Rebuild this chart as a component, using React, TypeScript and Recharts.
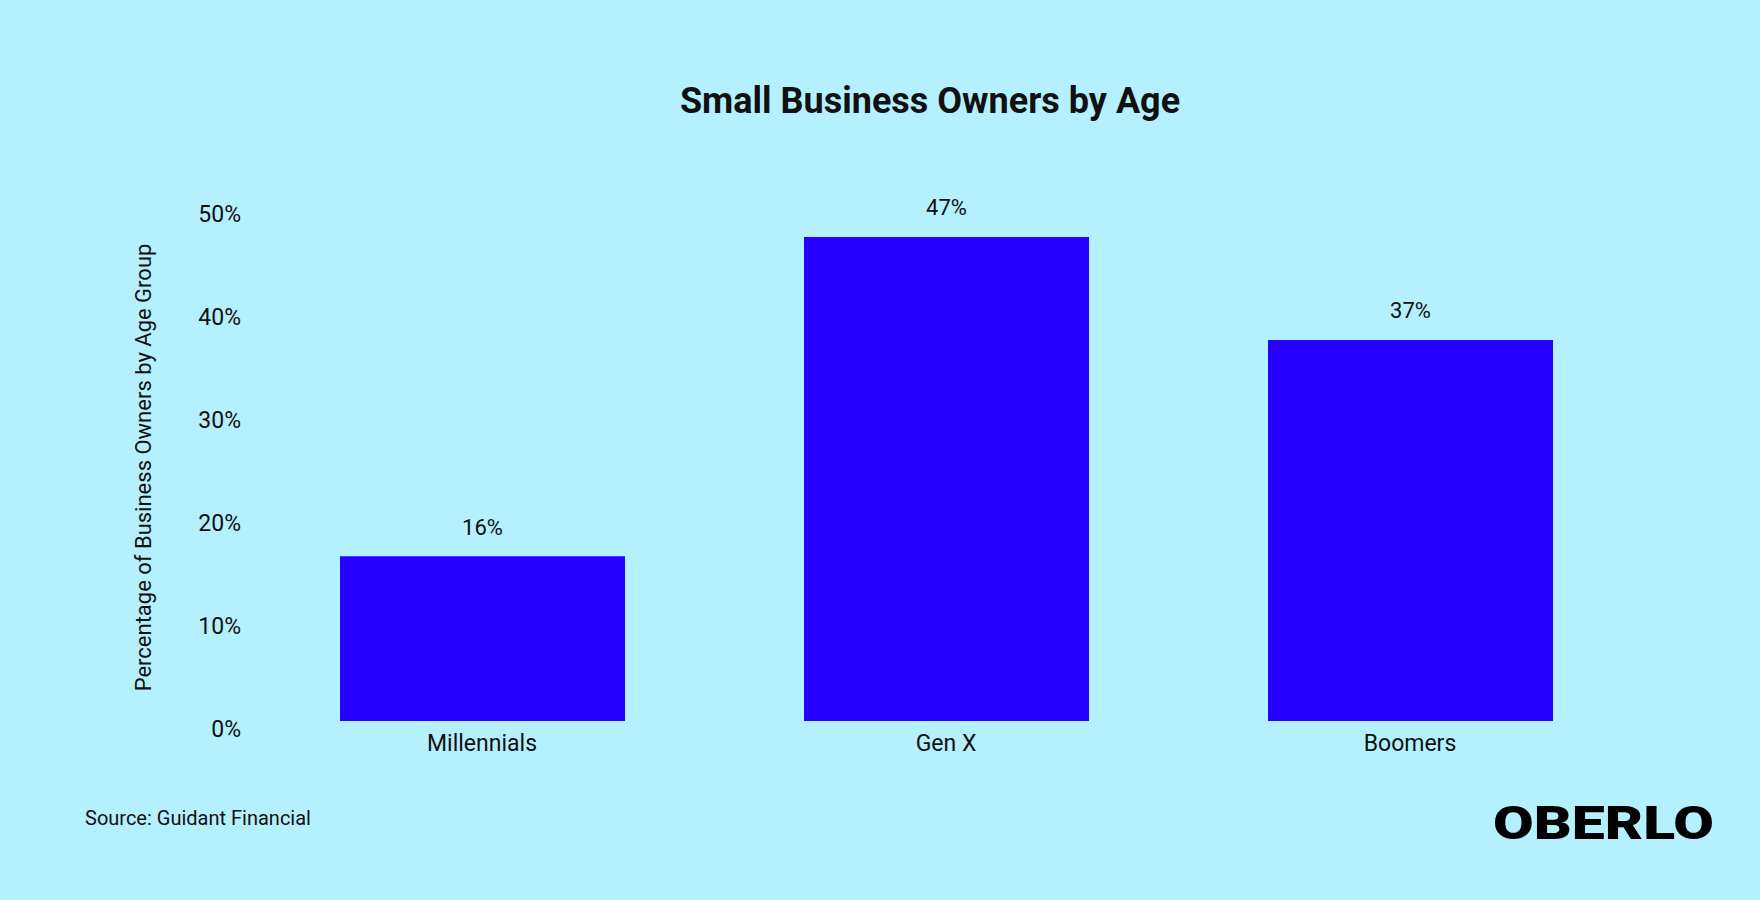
import { Bar, BarChart, LabelList, XAxis, YAxis } from "recharts";

const categories = ["Millennials", "Gen X", "Boomers"];
const shares = [16, 47, 37];
const yTicks = [0, 10, 20, 30, 40, 50];

const data = categories.map((name, i) => ({ name, share: shares[i] }));

const BG = "#b5f0fe";
const BAR = "#2800ff";
const INK = "#111111";
const FONT = "Roboto, 'Noto Sans', sans-serif";

const YTick = ({ x, y, payload }: any) => (
  <text x={x} y={y + 8} textAnchor="end" dominantBaseline="central" fill={INK} fontSize={23} fontFamily={FONT}>
    {payload.value}%
  </text>
);

const XTick = ({ x, y, payload }: any) => (
  <text x={x} y={y + 22} textAnchor="middle" dominantBaseline="central" fill={INK} fontSize={23} fontFamily={FONT}>
    {payload.value}
  </text>
);

const ValueLabel = ({ x, y, width, value }: any) => (
  <text x={x + width / 2} y={y - 29} textAnchor="middle" dominantBaseline="central" fill={INK} fontSize={22} fontFamily={FONT}>
    {value}%
  </text>
);

const YTitle = ({ viewBox }: any) => {
  const cx = viewBox.x + 3;
  const cy = viewBox.y + viewBox.height / 2 + 4;
  return (
    <text
      x={cx}
      y={cy}
      transform={`rotate(-90 ${cx} ${cy})`}
      textAnchor="middle"
      dominantBaseline="central"
      fill={INK}
      fontSize={22}
      fontFamily={FONT}
    >
      Percentage of Business Owners by Age Group
    </text>
  );
};

export default function App() {
  return (
    <div style={{ position: "absolute", left: 0, top: 0, width: 1760, height: 900, background: BG, fontFamily: FONT }}>
      <div
        style={{
          position: "absolute",
          left: 580,
          width: 700,
          top: 80,
          textAlign: "center",
          fontSize: 36,
          fontWeight: 700,
          color: INK,
          lineHeight: "42px",
        }}
      >
        Small Business Owners by Age
      </div>

      <BarChart width={1760} height={900} data={data} margin={{ top: 206, right: 118, bottom: 149, left: 140 }}>
        <XAxis dataKey="name" axisLine={false} tickLine={false} tickSize={0} tickMargin={0} height={30} tick={<XTick />} />
        <YAxis
          domain={[0, 50]}
          ticks={yTicks}
          axisLine={false}
          tickLine={false}
          tickSize={0}
          tickMargin={9}
          width={110}
          tick={<YTick />}
          label={{ content: <YTitle /> }}
        />
        <Bar dataKey="share" fill={BAR} barSize={285} isAnimationActive={false}>
          <LabelList dataKey="share" content={<ValueLabel />} />
        </Bar>
      </BarChart>

      <div style={{ position: "absolute", left: 85, top: 806, fontSize: 20, color: INK, lineHeight: "24px" }}>
        Source: Guidant Financial
      </div>

      <svg style={{ position: "absolute", left: 1488, top: 796 }} width={236} height={60}>
        <text
          x={5}
          y={43}
          textLength={221}
          lengthAdjust="spacingAndGlyphs"
          fontSize={46}
          fontWeight={900}
          fontFamily={FONT}
          fill="#000"
        >
          OBERLO
        </text>
      </svg>
    </div>
  );
}
